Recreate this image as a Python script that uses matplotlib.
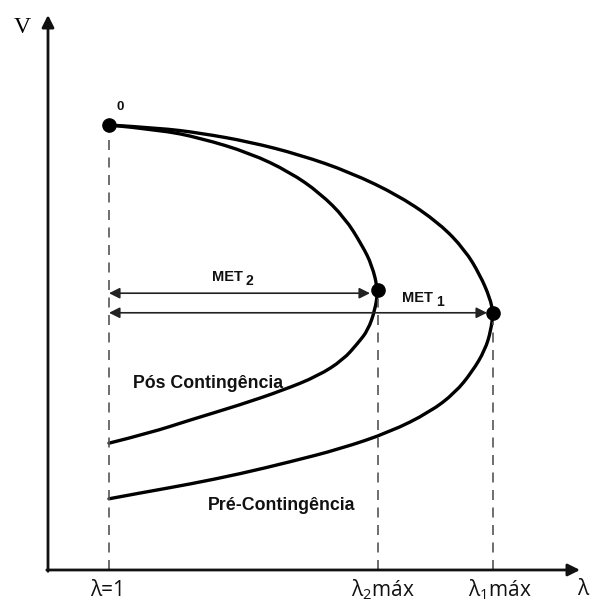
import matplotlib.pyplot as plt
from matplotlib.path import Path
from matplotlib.patches import PathPatch

# PV (nose) curves, lambda = load factor, V = voltage (p.u.)
pre_lam = [1.0, 1.1275, 1.2275, 1.3525, 1.4775, 1.6025, 1.7275, 1.8275, 1.89, 1.9275, 1.9525, 1.96,
           1.955, 1.94, 1.9075, 1.865, 1.8025, 1.7025, 1.5775, 1.4525, 1.3275, 1.2025, 1.0775, 1.0]
pre_v = [1.0, 0.993, 0.982, 0.962, 0.933, 0.894, 0.840, 0.778, 0.719, 0.663, 0.611, 0.578,
         0.539, 0.494, 0.445, 0.398, 0.355, 0.310, 0.272, 0.243, 0.216, 0.193, 0.173, 0.160]

pos_lam = [1.0, 1.1275, 1.2275, 1.3525, 1.4525, 1.5275, 1.59, 1.6325, 1.6575, 1.6725,
           1.665, 1.6475, 1.6225, 1.585, 1.5225, 1.435, 1.3275, 1.2025, 1.1025, 1.0]
pos_v = [1.0, 0.989, 0.971, 0.937, 0.894, 0.847, 0.791, 0.730, 0.685, 0.629,
         0.584, 0.539, 0.510, 0.472, 0.436, 0.404, 0.371, 0.337, 0.308, 0.285]

lam0 = 1.0
lam2_max, v2_nose = 1.6725, 0.629
lam1_max, v1_nose = 1.96, 0.578
met2_v = 0.622
met1_v = 0.578

plt.rcParams['mathtext.fontset'] = 'custom'
plt.rcParams['mathtext.rm'] = 'Open Sans'
plt.rcParams['mathtext.it'] = 'Open Sans'


def curve(xs, ys):
    # quadratic bezier chain, points used as control points
    verts = [(xs[0], ys[0])]
    codes = [Path.MOVETO]
    n = len(xs)
    for i in range(1, n - 1):
        verts.append((xs[i], ys[i]))
        if i < n - 2:
            verts.append(((xs[i] + xs[i + 1]) / 2, (ys[i] + ys[i + 1]) / 2))
        else:
            verts.append((xs[-1], ys[-1]))
        codes += [Path.CURVE3, Path.CURVE3]
    return Path(verts, codes)


fig = plt.figure(figsize=(5.9, 6.01), dpi=100)
ax = fig.add_axes([0, 0, 1, 1])
ax.set_xlim(0.7275, 2.2025)
ax.set_ylim(-0.0697, 1.2809)
ax.axis('off')

x_org, x_end = 0.8475, 2.1775
y_end = 1.2472

# axes with arrow heads
ax.annotate('', xy=(x_end, 0), xytext=(x_org - 0.003, 0),
            arrowprops=dict(arrowstyle='-|>', color='#111111', lw=2.0, mutation_scale=18,
                            shrinkA=0, shrinkB=0))
ax.annotate('', xy=(x_org, y_end), xytext=(x_org, -0.003),
            arrowprops=dict(arrowstyle='-|>', color='#111111', lw=2.0, mutation_scale=18,
                            shrinkA=0, shrinkB=0))

# dashed guides
dash = dict(color='#555555', lw=1.2, ls=(0, (6, 4.5)))
ax.plot([lam0, lam0], [0, 0.985], **dash)
ax.plot([lam2_max, lam2_max], [0, v2_nose - 0.02], **dash)
ax.plot([lam1_max, lam1_max], [0, v1_nose - 0.02], **dash)

# curves
for xs, ys in [(pre_lam, pre_v), (pos_lam, pos_v)]:
    ax.add_patch(PathPatch(curve(xs, ys), fill=False, edgecolor='black', lw=2.4,
                           capstyle='round'))

# MET arrows
arr = dict(arrowstyle='<|-|>', color='#222222', lw=1.2, mutation_scale=16, shrinkA=0, shrinkB=0)
ax.annotate('', xy=(lam2_max - 0.02, met2_v), xytext=(lam0, met2_v), arrowprops=arr)
ax.annotate('', xy=(lam1_max - 0.015, met1_v), xytext=(lam0, met1_v), arrowprops=arr)

# points
ax.plot([lam0, lam2_max, lam1_max], [1.0, v2_nose, v1_nose], 'o', color='black', ms=9.5)

bold = dict(family='Liberation Sans', weight='bold', color='#111111')
ax.text(1.0275, 1.04, '0', fontsize=9.5, ha='center', va='center', **bold)
ax.text(1.335, 0.658, 'MET', fontsize=10.5, ha='right', va='center', **bold)
ax.text(1.342, 0.650, '2', fontsize=10, ha='left', va='center', **bold)
ax.text(1.81, 0.611, 'MET', fontsize=10.5, ha='right', va='center', **bold)
ax.text(1.817, 0.603, '1', fontsize=10, ha='left', va='center', **bold)
ax.text(1.2475, 0.418, 'Pós Contingência', fontsize=12.8, ha='center', va='center', **bold)
ax.text(1.4325, 0.146, 'Pré-Contingência', fontsize=12.8, ha='center', va='center', **bold)

# axis labels
ax.text(0.7825, 1.22, 'V', fontsize=17, family='Liberation Serif', ha='center', va='center')
lab = dict(fontsize=15, family='Open Sans', va='center', color='#111111')
ax.text(lam0 - 0.0025, -0.045, 'λ=1', ha='center', **lab)
ax.text(1.685, -0.045, 'λ$_2$máx', ha='center', **lab)
ax.text(1.9775, -0.045, 'λ$_1$máx', ha='center', **lab)
ax.text(2.185, -0.043, 'λ', ha='center', **lab)

fig.savefig('out.png', dpi=100)
